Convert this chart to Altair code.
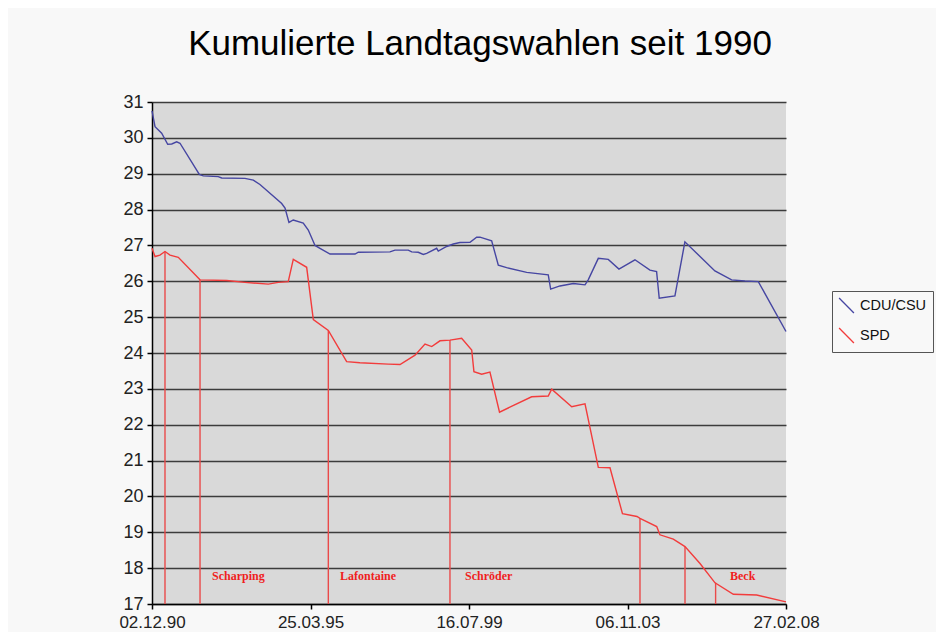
import altair as alt
import pandas as pd

# ---- data (days after 02.12.1990, percent) ----
base_date = pd.Timestamp("1990-12-02")

cdu_days = [0, 30, 96, 156, 196, 245, 278, 470, 509, 658, 692, 923, 1006, 1072,
            1288, 1321, 1360, 1403, 1502, 1552, 1619, 1668, 1768, 2016, 2049,
            2363, 2413, 2545, 2579, 2644, 2694, 2728, 2827, 2843, 2926, 2992,
            3058, 3158, 3224, 3257, 3373, 3439, 3522, 3721, 3935, 3959, 4051,
            4184, 4300, 4332, 4432, 4531, 4637, 4796, 4945, 5011, 5037, 5193,
            5292, 5590, 5756, 5888, 6021, 6296]
cdu_vals = [30.75, 30.31, 30.13, 29.82, 29.83, 29.89, 29.85, 28.98, 28.94, 28.92,
            28.88, 28.87, 28.82, 28.70, 28.17, 28.04, 27.64, 27.71, 27.62, 27.43,
            27.00, 26.92, 26.76, 26.76, 26.81, 26.82, 26.87, 26.87, 26.82, 26.81,
            26.75, 26.78, 26.92, 26.84, 26.97, 27.04, 27.08, 27.09, 27.23, 27.23,
            27.13, 26.45, 26.38, 26.25, 26.18, 25.78, 25.87, 25.94, 25.90, 26.04,
            26.64, 26.61, 26.34, 26.60, 26.31, 26.27, 25.53, 25.59, 27.10, 26.29,
            26.04, 26.01, 25.99, 24.60]

spd_days = [0, 30, 79, 129, 179, 261, 477, 742, 923, 1155, 1254, 1353, 1403, 1536,
            1602, 1751, 1933, 2065, 2346, 2463, 2612, 2711, 2778, 2860, 2959,
            3075, 3175, 3197, 3274, 3356, 3451, 3770, 3935, 3969, 4168, 4300,
            4432, 4548, 4672, 4816, 4846, 5012, 5044, 5177, 5293, 5442, 5591,
            5773, 6005, 6296]
spd_vals = [26.92, 26.69, 26.73, 26.83, 26.73, 26.67, 26.04, 26.02, 25.97, 25.92,
            25.97, 25.99, 26.61, 26.39, 24.93, 24.63, 23.76, 23.73, 23.69, 23.68,
            23.94, 24.25, 24.18, 24.34, 24.36, 24.41, 24.08, 23.48, 23.41, 23.47,
            22.35, 22.78, 22.80, 22.99, 22.50, 22.58, 20.81, 20.80, 19.52, 19.44,
            19.39, 19.16, 18.93, 18.81, 18.60, 18.13, 17.59, 17.27, 17.25, 17.06]

marker_days = [129, 477, 1751, 2959, 4846, 5293, 5597]
marker_vals = [26.83, 26.04, 24.63, 24.36, 19.39, 18.60, 17.59]

label_names = ["Scharping", "Lafontaine", "Schröder", "Beck"]
label_days = [596, 1867, 3108, 5740]
label_level = 17.78

tick_dates = [(1990, 12, 2), (1995, 3, 25), (1999, 7, 16), (2003, 11, 6), (2008, 2, 27)]
y_min, y_max = 17, 31
series_names = ["CDU/CSU", "SPD"]
series_colors = ["#4646a2", "#f23c3c"]


def to_date(d):
    return (base_date + pd.Timedelta(days=d)).strftime("%Y-%m-%d")


lines = pd.DataFrame(
    {"date": [to_date(d) for d in cdu_days], "value": cdu_vals, "Partei": series_names[0]}
)
lines = pd.concat([lines, pd.DataFrame(
    {"date": [to_date(d) for d in spd_days], "value": spd_vals, "Partei": series_names[1]}
)], ignore_index=True)

markers = pd.DataFrame({"date": [to_date(d) for d in marker_days], "top": marker_vals,
                        "bottom": y_min})
labels = pd.DataFrame({"date": [to_date(d) for d in label_days], "name": label_names,
                       "level": label_level})

tick_values = [alt.DateTime(year=y, month=m, date=d, utc=True) for (y, m, d) in tick_dates]

x_scale = alt.Scale(type="utc", domain=[tick_values[0], tick_values[-1]])
y_scale = alt.Scale(domain=[y_min, y_max], nice=False, zero=False)

x_axis = alt.Axis(values=tick_values, labelExpr="utcFormat(datum.value, '%d.%m.%y')",
                  title=None, labelFontSize=17, labelFont="Liberation Sans",
                  labelColor="#222", tickSize=5, tickColor="#000", tickWidth=1.5,
                  domainColor="#000", domainWidth=1.5, labelPadding=5, grid=False,
                  labelFlush=False, labelOverlap=False)
y_axis = alt.Axis(values=list(range(y_min, y_max + 1)), title=None, labelFontSize=18,
                  labelFont="Liberation Sans", labelColor="#222", tickSize=5,
                  tickColor="#000", tickWidth=1.5, domainColor="#000", domainWidth=1.5,
                  labelPadding=4, labelOverlap=False, grid=True, gridColor="#3c3c3c",
                  gridWidth=1.6)

X = alt.X("date:T", scale=x_scale, axis=x_axis)

rule_chart = alt.Chart(markers).mark_rule(color="#ea4a4a", strokeWidth=1.4).encode(
    x=X,
    y=alt.Y("top:Q", scale=y_scale, axis=y_axis),
    y2="bottom:Q",
)

line_chart = alt.Chart(lines).mark_line(strokeWidth=1.4).encode(
    x=X,
    y=alt.Y("value:Q", scale=y_scale, axis=y_axis),
    color=alt.Color("Partei:N", scale=alt.Scale(domain=series_names, range=series_colors),
                    legend=alt.Legend(title=None, orient="none", legendX=680, legendY=189,
                                      symbolType="M-1,-1L1,1", symbolSize=220,
                                      symbolStrokeWidth=1.3, labelFontSize=14.5,
                                      labelFont="Liberation Sans", labelColor="#111",
                                      fillColor="#f8f8f8", strokeColor="#555",
                                      padding=6, rowPadding=9, labelOffset=5)),
)

text_chart = alt.Chart(labels).mark_text(
    align="left", baseline="middle", font="Liberation Serif", fontWeight="bold",
    fontSize=12, color="#f01e1e"
).encode(
    x=X,
    y=alt.Y("level:Q", scale=y_scale, axis=y_axis),
    text="name:N",
)

chart = alt.layer(rule_chart, line_chart, text_chart).properties(
    width=634,
    height=502,
    padding={"left": 144, "top": 94, "right": 150, "bottom": 28},
    autosize=alt.AutoSizeParams(type="none"),
    background="#f8f8f8",
    title=alt.Title("Kumulierte Landtagswahlen seit 1990", fontSize=35,
                    font="Liberation Sans", fontWeight="normal", color="#000",
                    anchor="middle", frame="group", offset=31, dx=11),
).configure_view(fill="#d9d9d9", stroke=None)

chart.save("out.html", embed_options={"renderer": "svg", "actions": False})
